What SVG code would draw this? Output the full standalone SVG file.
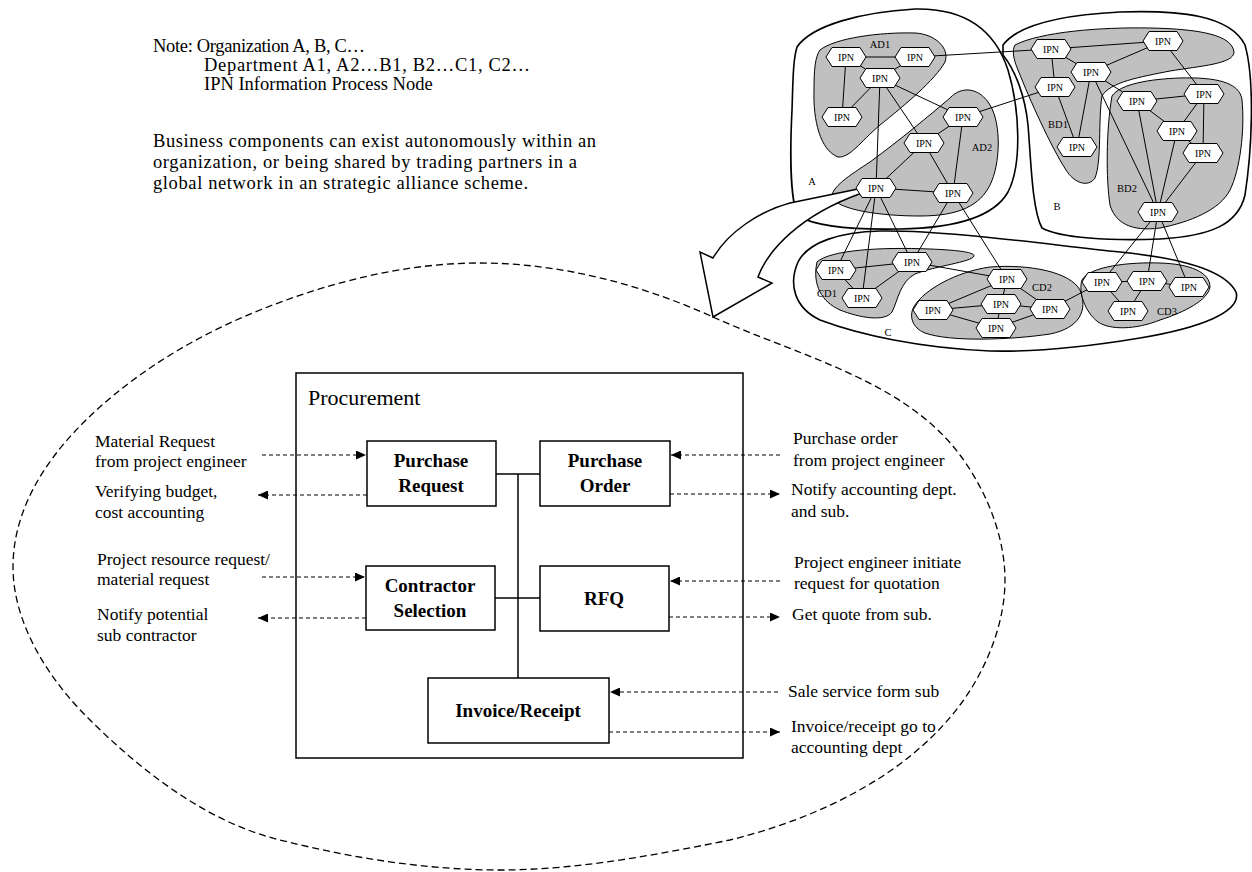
<svg xmlns="http://www.w3.org/2000/svg" xmlns:xlink="http://www.w3.org/1999/xlink" width="1252" height="872" viewBox="0 0 1252 872">
<style>
.t{font-family:"Liberation Serif","Times New Roman",serif;fill:#000}
.top{font-size:18.5px}
.lbl{font-size:17.5px}
.bx{font-size:19px;font-weight:bold;text-anchor:middle}
.ttl{font-size:22px}
.ipn{font-family:"Liberation Serif","Times New Roman",serif;font-size:10px;text-anchor:middle;fill:#000}
.nl{font-family:"Liberation Serif","Times New Roman",serif;font-size:10.5px;text-anchor:middle;fill:#000}
.org{fill:#fff;stroke:#000;stroke-width:1.6}
.dept{fill:#c0c0c0;stroke:#000;stroke-width:1}
.edge{stroke:#000;stroke-width:1;fill:none}
.box{fill:#fff;stroke:#000;stroke-width:1.5}
.bus{stroke:#000;stroke-width:1.5;fill:none}
.dash{stroke:#000;stroke-width:1.2;stroke-dasharray:4 3;fill:none;marker-end:url(#ah)}
.ell{fill:none;stroke:#000;stroke-width:1.3;stroke-dasharray:7 4}
</style>
<defs>
<marker id="ah" markerUnits="userSpaceOnUse" markerWidth="11" markerHeight="9" refX="10" refY="4.5" orient="auto">
<path d="M0,0 L10,4.5 L0,9 Z" fill="#000"/>
</marker>
<polygon id="hex" points="-20,0 -14,-9.5 14,-9.5 20,0 14,9.5 -14,9.5" fill="#fff" stroke="#000" stroke-width="1"/>
</defs>
<rect width="1252" height="872" fill="#fff"/>

<g id="note">
<text class="t top" x="153" y="52" textLength="212" lengthAdjust="spacing">Note: Organization A, B, C…</text>
<text class="t top" x="204" y="71" textLength="326" lengthAdjust="spacing">Department A1, A2…B1, B2…C1, C2…</text>
<text class="t top" x="204" y="90">IPN Information Process Node</text>
<text class="t top" x="153" y="147" textLength="443" lengthAdjust="spacing">Business components can exist autonomously within an</text>
<text class="t top" x="153" y="168" textLength="424" lengthAdjust="spacing">organization, or being shared by trading partners in a</text>
<text class="t top" x="153" y="189" textLength="375" lengthAdjust="spacing">global network in an strategic alliance scheme.</text>
</g>

<g id="ellipse">
<path class="ell" d="M713,317 C799,356 904,380 960,455 C986,490 1005,536 1005,580 C1005,624 986,670 960,705 C907,776 816,819 730,840 C655,855 577,870 500,870 C426,870 352,858 280,840 C206,822 140,770 87,717 C48,678 13,623 13,567 C13,511 44,462 83,423 C132,374 195,336 260,310 C330,282 405,263 480,263 C560,263 640,284 713,317 Z"/>
</g>

<g id="organizations">
<path id="org-A" class="org" d="M797,47 C812,25 862,12 915,9 C965,8 995,30 1008,70 C1020,110 1022,165 1008,192 C995,215 960,228 900,229 C850,230 815,226 798,216 C790,200 790,150 792,110 C793,80 793,60 797,47 Z"/>
<path id="org-B" class="org" d="M1003,45 C1018,25 1060,15 1120,12 C1180,10 1230,15 1245,45 C1255,80 1252,150 1245,195 C1238,225 1210,236 1160,239 C1110,241 1060,238 1042,228 C1032,210 1031,160 1028,125 C1025,95 1015,70 1003,55 Z"/>
<path id="org-C" class="org" d="M880,231 C950,230 1050,245 1120,252 C1180,258 1225,270 1236,292 C1242,312 1200,328 1140,338 C1080,348 1030,352 990,351 C920,348 860,335 820,320 C795,308 788,285 798,262 C808,242 840,232 880,231 Z"/>
<path id="dept-AD1" class="dept" d="M820,50 C835,38 880,32 915,33 C935,34 950,48 945,62 C935,80 905,105 880,125 C860,142 850,158 838,157 C820,150 813,120 814,90 C814,70 815,57 820,50 Z"/>
<path id="dept-AD2" class="dept" d="M950,98 C962,85 980,88 990,105 C1002,125 1000,165 990,185 C980,205 960,216 920,216 C880,216 840,210 832,198 C830,188 850,175 870,162 C900,140 930,115 950,98 Z"/>
<path id="dept-BD1" class="dept" d="M1015,45 C1040,32 1100,27 1150,28 C1200,29 1232,35 1234,52 C1234,64 1200,66 1170,71 C1140,77 1110,82 1102,96 C1098,120 1102,160 1095,178 C1088,188 1074,183 1066,170 C1050,145 1030,100 1018,70 C1013,58 1012,50 1015,45 Z"/>
<path id="dept-BD2" class="dept" d="M1112,96 C1120,84 1150,79 1180,78 C1215,77 1240,82 1242,100 C1245,130 1240,170 1230,190 C1220,210 1190,222 1160,228 C1130,232 1115,222 1110,205 C1106,180 1106,130 1112,96 Z"/>
<path id="dept-CD1" class="dept" d="M817,262 C830,250 880,247 930,249 C955,250 975,252 974,256 C972,262 935,266 915,274 C900,282 898,300 892,312 C885,322 860,318 840,310 C822,302 812,285 817,262 Z"/>
<path id="dept-CD2" class="dept" d="M915,305 C925,290 955,272 990,267 C1030,264 1070,272 1080,290 C1088,310 1080,328 1050,334 C1010,340 950,342 925,333 C912,328 908,315 915,305 Z"/>
<path id="dept-CD3" class="dept" d="M1082,280 C1090,266 1130,262 1160,263 C1190,264 1210,272 1210,287 C1208,300 1185,312 1160,320 C1135,330 1110,330 1098,322 C1085,312 1078,292 1082,280 Z"/>
<text class="nl" x="880" y="48">AD1</text>
<text class="nl" x="982" y="151">AD2</text>
<text class="nl" x="812" y="185">A</text>
<text class="nl" x="1058" y="128">BD1</text>
<text class="nl" x="1127" y="192">BD2</text>
<text class="nl" x="1057" y="210">B</text>
<text class="nl" x="827" y="297">CD1</text>
<text class="nl" x="888" y="336">C</text>
<text class="nl" x="1042" y="291">CD2</text>
<text class="nl" x="1167" y="315">CD3</text>
</g>

<g id="connectors">
<g id="net-edges">
<line class="edge" x1="846" y1="57" x2="915" y2="57"/>
<line class="edge" x1="846" y1="57" x2="880" y2="78"/>
<line class="edge" x1="915" y1="57" x2="880" y2="78"/>
<line class="edge" x1="846" y1="57" x2="842" y2="117"/>
<line class="edge" x1="880" y1="78" x2="842" y2="117"/>
<line class="edge" x1="880" y1="78" x2="963" y2="117"/>
<line class="edge" x1="880" y1="78" x2="924" y2="143"/>
<line class="edge" x1="880" y1="78" x2="876" y2="188"/>
<line class="edge" x1="915" y1="57" x2="1051" y2="49"/>
<line class="edge" x1="963" y1="117" x2="1055" y2="87"/>
<line class="edge" x1="963" y1="117" x2="924" y2="143"/>
<line class="edge" x1="963" y1="117" x2="953" y2="193"/>
<line class="edge" x1="924" y1="143" x2="876" y2="188"/>
<line class="edge" x1="924" y1="143" x2="953" y2="193"/>
<line class="edge" x1="876" y1="188" x2="953" y2="193"/>
<line class="edge" x1="876" y1="188" x2="836" y2="270"/>
<line class="edge" x1="876" y1="188" x2="862" y2="298"/>
<line class="edge" x1="876" y1="188" x2="912" y2="262"/>
<line class="edge" x1="953" y1="193" x2="912" y2="262"/>
<line class="edge" x1="953" y1="193" x2="1007" y2="279"/>
<line class="edge" x1="1051" y1="49" x2="1163" y2="41"/>
<line class="edge" x1="1051" y1="49" x2="1091" y2="72"/>
<line class="edge" x1="1051" y1="49" x2="1055" y2="87"/>
<line class="edge" x1="1091" y1="72" x2="1163" y2="41"/>
<line class="edge" x1="1091" y1="72" x2="1077" y2="147"/>
<line class="edge" x1="1055" y1="87" x2="1077" y2="147"/>
<line class="edge" x1="1091" y1="72" x2="1137" y2="101"/>
<line class="edge" x1="1091" y1="72" x2="1158" y2="212"/>
<line class="edge" x1="1163" y1="41" x2="1204" y2="94"/>
<line class="edge" x1="1137" y1="101" x2="1204" y2="94"/>
<line class="edge" x1="1137" y1="101" x2="1177" y2="131"/>
<line class="edge" x1="1137" y1="101" x2="1158" y2="212"/>
<line class="edge" x1="1204" y1="94" x2="1177" y2="131"/>
<line class="edge" x1="1204" y1="94" x2="1203" y2="153"/>
<line class="edge" x1="1177" y1="131" x2="1203" y2="153"/>
<line class="edge" x1="1177" y1="131" x2="1158" y2="212"/>
<line class="edge" x1="1203" y1="153" x2="1158" y2="212"/>
<line class="edge" x1="1158" y1="212" x2="1102" y2="282"/>
<line class="edge" x1="1158" y1="212" x2="1147" y2="281"/>
<line class="edge" x1="1158" y1="212" x2="1189" y2="287"/>
<line class="edge" x1="836" y1="270" x2="912" y2="262"/>
<line class="edge" x1="836" y1="270" x2="862" y2="298"/>
<line class="edge" x1="912" y1="262" x2="862" y2="298"/>
<line class="edge" x1="912" y1="262" x2="1007" y2="279"/>
<line class="edge" x1="1007" y1="279" x2="1001" y2="304"/>
<line class="edge" x1="1007" y1="279" x2="933" y2="310"/>
<line class="edge" x1="933" y1="310" x2="1001" y2="304" stroke-width="1.8"/>
<line class="edge" x1="933" y1="310" x2="996" y2="328"/>
<line class="edge" x1="1001" y1="304" x2="996" y2="328"/>
<line class="edge" x1="1001" y1="304" x2="1050" y2="309" stroke-width="1.8"/>
<line class="edge" x1="996" y1="328" x2="1050" y2="309"/>
<line class="edge" x1="1007" y1="279" x2="1050" y2="309"/>
<line class="edge" x1="1050" y1="309" x2="1102" y2="282"/>
<line class="edge" x1="1102" y1="282" x2="1147" y2="281"/>
<line class="edge" x1="1102" y1="282" x2="1128" y2="311"/>
<line class="edge" x1="1147" y1="281" x2="1128" y2="311"/>
<line class="edge" x1="1147" y1="281" x2="1189" y2="287"/>
</g>
<path id="zoom-arrow" d="M858,189 L790,203 C760,211 728,232 713,258 L700,252 L713,317 L772,283 L758,277 C768,250 800,215 862,193 Z" fill="#fff" stroke="#000" stroke-width="1.5" stroke-linejoin="miter"/>
<g id="proc-links">
<line class="bus" x1="496" y1="474" x2="540" y2="474"/>
<line class="bus" x1="495" y1="598" x2="540" y2="598"/>
<line class="bus" x1="518" y1="474" x2="518" y2="678"/>
</g>
<g id="io-arrows">
<line class="dash" x1="262" y1="455" x2="366" y2="455"/>
<line class="dash" x1="367" y1="495" x2="258" y2="495"/>
<line class="dash" x1="262" y1="577" x2="365" y2="577"/>
<line class="dash" x1="366" y1="618" x2="258" y2="618"/>
<line class="dash" x1="780" y1="455" x2="671" y2="455"/>
<line class="dash" x1="670" y1="494" x2="780" y2="494"/>
<line class="dash" x1="780" y1="581" x2="670" y2="581"/>
<line class="dash" x1="669" y1="617" x2="780" y2="617"/>
<line class="dash" x1="778" y1="692" x2="610" y2="692"/>
<line class="dash" x1="609" y1="732" x2="780" y2="732"/>
</g>
</g>

<g id="ipn-nodes">
<g id="n-a1" transform="translate(846,57)"><use xlink:href="#hex"/><text class="ipn" y="3.5">IPN</text></g>
<g id="n-a2" transform="translate(915,57)"><use xlink:href="#hex"/><text class="ipn" y="3.5">IPN</text></g>
<g id="n-a3" transform="translate(880,78)"><use xlink:href="#hex"/><text class="ipn" y="3.5">IPN</text></g>
<g id="n-a4" transform="translate(842,117)"><use xlink:href="#hex"/><text class="ipn" y="3.5">IPN</text></g>
<g id="n-a5" transform="translate(963,117)"><use xlink:href="#hex"/><text class="ipn" y="3.5">IPN</text></g>
<g id="n-a6" transform="translate(924,143)"><use xlink:href="#hex"/><text class="ipn" y="3.5">IPN</text></g>
<g id="n-a7" transform="translate(876,188)"><use xlink:href="#hex"/><text class="ipn" y="3.5">IPN</text></g>
<g id="n-a8" transform="translate(953,193)"><use xlink:href="#hex"/><text class="ipn" y="3.5">IPN</text></g>
<g id="n-b1" transform="translate(1051,49)"><use xlink:href="#hex"/><text class="ipn" y="3.5">IPN</text></g>
<g id="n-b2" transform="translate(1163,41)"><use xlink:href="#hex"/><text class="ipn" y="3.5">IPN</text></g>
<g id="n-b3" transform="translate(1091,72)"><use xlink:href="#hex"/><text class="ipn" y="3.5">IPN</text></g>
<g id="n-b4" transform="translate(1055,87)"><use xlink:href="#hex"/><text class="ipn" y="3.5">IPN</text></g>
<g id="n-b5" transform="translate(1077,147)"><use xlink:href="#hex"/><text class="ipn" y="3.5">IPN</text></g>
<g id="n-b6" transform="translate(1137,101)"><use xlink:href="#hex"/><text class="ipn" y="3.5">IPN</text></g>
<g id="n-b7" transform="translate(1204,94)"><use xlink:href="#hex"/><text class="ipn" y="3.5">IPN</text></g>
<g id="n-b8" transform="translate(1177,131)"><use xlink:href="#hex"/><text class="ipn" y="3.5">IPN</text></g>
<g id="n-b9" transform="translate(1203,153)"><use xlink:href="#hex"/><text class="ipn" y="3.5">IPN</text></g>
<g id="n-b10" transform="translate(1158,212)"><use xlink:href="#hex"/><text class="ipn" y="3.5">IPN</text></g>
<g id="n-c1" transform="translate(836,270)"><use xlink:href="#hex"/><text class="ipn" y="3.5">IPN</text></g>
<g id="n-c2" transform="translate(912,262)"><use xlink:href="#hex"/><text class="ipn" y="3.5">IPN</text></g>
<g id="n-c3" transform="translate(862,298)"><use xlink:href="#hex"/><text class="ipn" y="3.5">IPN</text></g>
<g id="n-c4" transform="translate(1007,279)"><use xlink:href="#hex"/><text class="ipn" y="3.5">IPN</text></g>
<g id="n-c5" transform="translate(1001,304)"><use xlink:href="#hex"/><text class="ipn" y="3.5">IPN</text></g>
<g id="n-c6" transform="translate(996,328)"><use xlink:href="#hex"/><text class="ipn" y="3.5">IPN</text></g>
<g id="n-c7" transform="translate(933,310)"><use xlink:href="#hex"/><text class="ipn" y="3.5">IPN</text></g>
<g id="n-c8" transform="translate(1050,309)"><use xlink:href="#hex"/><text class="ipn" y="3.5">IPN</text></g>
<g id="n-c9" transform="translate(1102,282)"><use xlink:href="#hex"/><text class="ipn" y="3.5">IPN</text></g>
<g id="n-c10" transform="translate(1147,281)"><use xlink:href="#hex"/><text class="ipn" y="3.5">IPN</text></g>
<g id="n-c11" transform="translate(1189,287)"><use xlink:href="#hex"/><text class="ipn" y="3.5">IPN</text></g>
<g id="n-c12" transform="translate(1128,311)"><use xlink:href="#hex"/><text class="ipn" y="3.5">IPN</text></g>
</g>

<g id="procurement">
<rect x="296" y="373" width="447" height="385" fill="none" stroke="#000" stroke-width="1.5"/>
<text class="t ttl" x="308" y="405">Procurement</text>
</g>
<g id="purchase-request"><rect class="box" x="367" y="441" width="129" height="65"/><text class="t bx" x="431" y="467">Purchase</text><text class="t bx" x="431" y="492">Request</text></g>
<g id="purchase-order"><rect class="box" x="540" y="441" width="130" height="65"/><text class="t bx" x="605" y="467">Purchase</text><text class="t bx" x="605" y="492">Order</text></g>
<g id="contractor-selection"><rect class="box" x="366" y="566" width="129" height="64"/><text class="t bx" x="430" y="592">Contractor</text><text class="t bx" x="430" y="617">Selection</text></g>
<g id="rfq"><rect class="box" x="540" y="566" width="129" height="65"/><text class="t bx" x="604" y="605">RFQ</text></g>
<g id="invoice-receipt"><rect class="box" x="428" y="678" width="181" height="65"/><text class="t bx" x="518" y="717">Invoice/Receipt</text></g>

<g id="labels">
<text class="t lbl" x="95" y="447">Material Request</text>
<text class="t lbl" x="95" y="467">from project engineer</text>
<text class="t lbl" x="95" y="497">Verifying budget,</text>
<text class="t lbl" x="95" y="518">cost accounting</text>
<text class="t lbl" x="97" y="565">Project resource request/</text>
<text class="t lbl" x="97" y="585">material request</text>
<text class="t lbl" x="97" y="620">Notify potential</text>
<text class="t lbl" x="97" y="641">sub contractor</text>
<text class="t lbl" x="793" y="444">Purchase order</text>
<text class="t lbl" x="793" y="466">from project engineer</text>
<text class="t lbl" x="791" y="495">Notify accounting dept.</text>
<text class="t lbl" x="791" y="517">and sub.</text>
<text class="t lbl" x="794" y="568">Project engineer initiate</text>
<text class="t lbl" x="794" y="589">request for quotation</text>
<text class="t lbl" x="792" y="620">Get quote from sub.</text>
<text class="t lbl" x="788" y="697">Sale service form sub</text>
<text class="t lbl" x="791" y="732">Invoice/receipt go to</text>
<text class="t lbl" x="791" y="753">accounting dept</text>
</g>
</svg>
